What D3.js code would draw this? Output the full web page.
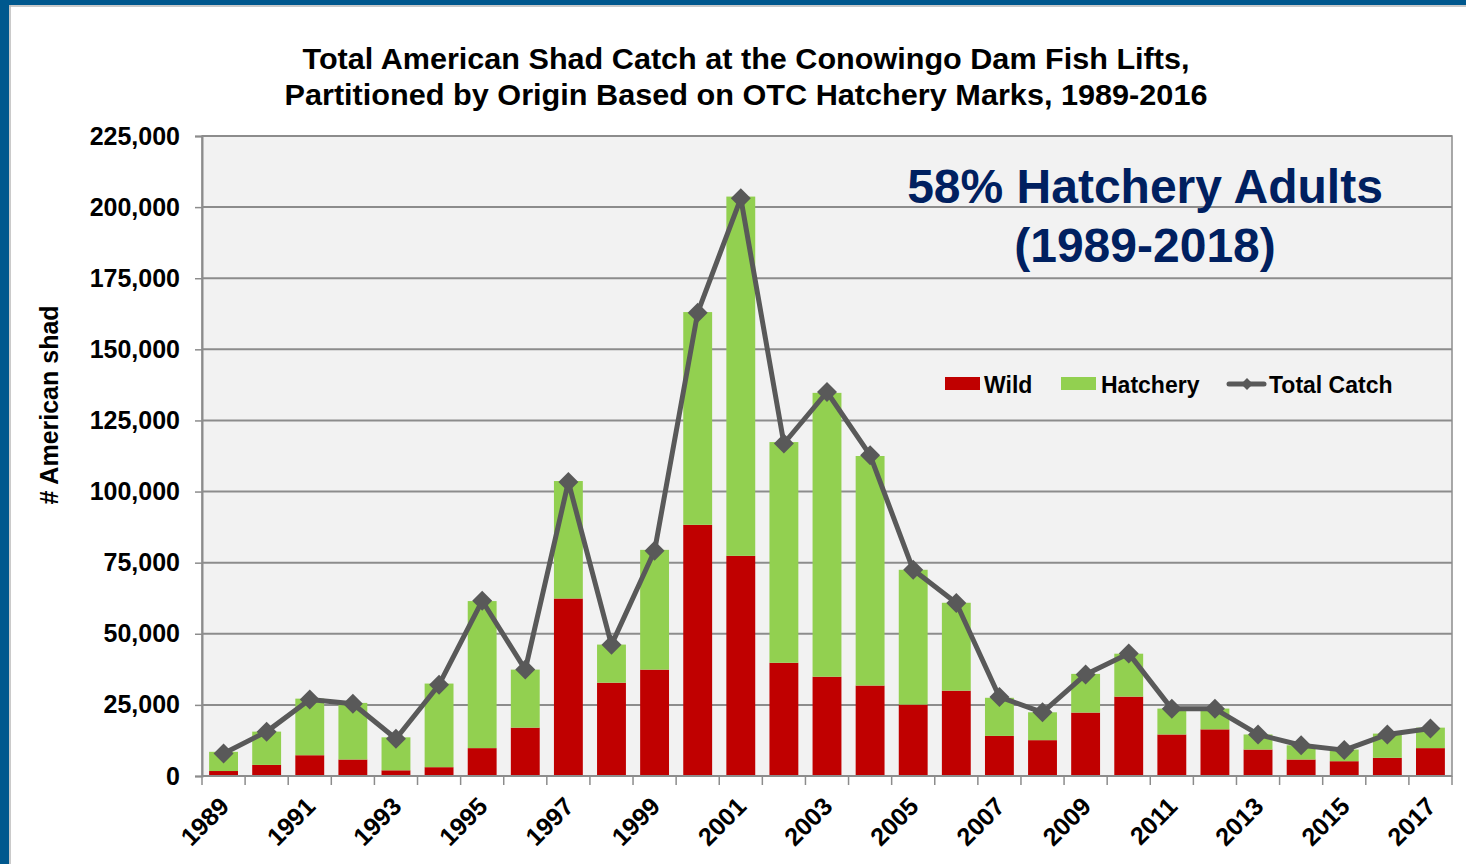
<!DOCTYPE html>
<html>
<head>
<meta charset="utf-8">
<script src="https://cdn.jsdelivr.net/npm/d3@7"></script>
<style>
  body { margin: 0; background: #fff; }
  svg { display: block; font-family: "Liberation Sans", Arial, sans-serif; }
</style>
</head>
<body>
<div id="chart"></div>
<script>
// values
var years = d3.range(1989, 2018);
var wild = [1750, 3900, 7300, 5800, 2000, 3100, 9800, 17000, 62400, 32800,
            37400, 88300, 77400, 39800, 34900, 31800, 25100, 30000, 14100, 12600,
            22300, 27900, 14600, 16400, 9300, 5800, 5200, 6400, 9800];
var hatchery = [6750, 11700, 19900, 19900, 11600, 29400, 51700, 20400, 41300, 13400,
                42100, 74800, 126300, 77600, 99800, 80700, 47400, 30900, 13400, 9800,
                13600, 15100, 9100, 7300, 5300, 5000, 4100, 8500, 7200];
var totalCatch = [7900, 15600, 26900, 25400, 13100, 32100, 61600, 37400, 103400, 46100,
                  79200, 162900, 203100, 116900, 135000, 112800, 72500, 60800, 27800, 22400,
                  35700, 43100, 23600, 23600, 14600, 10800, 9100, 14600, 16700];
var yTicks = [0, 25000, 50000, 75000, 100000, 125000, 150000, 175000, 200000, 225000];

var width = 1466, height = 864;
var plotL = 202, plotR = 1452, plotT = 136, plotB = 776;
var font = '"Liberation Sans", Arial, sans-serif';

var svg = d3.select('#chart').append('svg')
    .attr('width', width)
    .attr('height', height);

// slide frame
svg.append('rect').attr('x', 0).attr('y', 0).attr('width', width).attr('height', height).attr('fill', '#00588e');
svg.append('rect').attr('x', 9).attr('y', 5).attr('width', width - 9).attr('height', height - 5).attr('fill', '#fff');
svg.append('line').attr('x1', 10).attr('x2', 10).attr('y1', 5).attr('y2', height).attr('stroke', '#b8b8b8').attr('stroke-width', 1.5);
svg.append('line').attr('x1', 9).attr('x2', width).attr('y1', 6).attr('y2', 6).attr('stroke', '#b8b8b8').attr('stroke-width', 1.5);

var x = d3.scaleBand().domain(years).range([plotL, plotR]).paddingInner(0.33).paddingOuter(0.165);
var xc = d3.scaleBand().domain(years).range([plotL, plotR]);
var y = d3.scaleLinear().domain([0, 225000]).range([plotB, plotT]);

// plot area
svg.append('rect')
    .attr('x', plotL).attr('y', plotT)
    .attr('width', plotR - plotL).attr('height', plotB - plotT)
    .attr('fill', '#f2f2f2')
    .attr('stroke', '#8c8c8c').attr('stroke-width', 1.5);

// gridlines
svg.append('g').selectAll('line')
    .data(yTicks.slice(1))
  .enter().append('line')
    .attr('x1', plotL).attr('x2', plotR)
    .attr('y1', function(d) { return y(d); })
    .attr('y2', function(d) { return y(d); })
    .attr('stroke', '#8c8c8c').attr('stroke-width', 2);

// y axis
var yAxis = svg.append('g')
    .attr('transform', 'translate(' + plotL + ',0)')
    .call(d3.axisLeft(y).tickValues(yTicks).tickSize(7).tickPadding(15).tickFormat(d3.format(',')));
yAxis.select('.domain').attr('stroke', '#8c8c8c').attr('stroke-width', 2);
yAxis.selectAll('.tick line').attr('stroke', '#8c8c8c').attr('stroke-width', 1.5);
yAxis.selectAll('text')
    .attr('font-size', 25).attr('font-weight', 'bold').attr('fill', '#000')
    .attr('font-family', font);

svg.append('text')
    .attr('transform', 'translate(58,405) rotate(-90)')
    .attr('text-anchor', 'middle')
    .attr('font-size', 25).attr('font-weight', 'bold')
    .text('# American shad');

// stacked bars
var stacked = years.map(function(yr, i) { return { year: yr, wild: wild[i], hatchery: hatchery[i] }; });

svg.append('g').selectAll('.wild')
    .data(stacked)
  .enter().append('rect')
    .attr('class', 'wild')
    .attr('x', function(d) { return x(d.year); })
    .attr('width', x.bandwidth())
    .attr('y', function(d) { return y(d.wild); })
    .attr('height', function(d) { return y(0) - y(d.wild); })
    .attr('fill', '#c00000');

svg.append('g').selectAll('.hatchery')
    .data(stacked)
  .enter().append('rect')
    .attr('class', 'hatchery')
    .attr('x', function(d) { return x(d.year); })
    .attr('width', x.bandwidth())
    .attr('y', function(d) { return y(d.wild + d.hatchery); })
    .attr('height', function(d) { return y(d.wild) - y(d.wild + d.hatchery); })
    .attr('fill', '#92d050');

// x axis
svg.append('line')
    .attr('x1', plotL).attr('x2', plotR)
    .attr('y1', plotB).attr('y2', plotB)
    .attr('stroke', '#8c8c8c').attr('stroke-width', 2);
svg.append('g').selectAll('line')
    .data(years.concat([2018]))
  .enter().append('line')
    .attr('x1', function(d, i) { return plotL + i * xc.step(); })
    .attr('x2', function(d, i) { return plotL + i * xc.step(); })
    .attr('y1', plotB).attr('y2', plotB + 9)
    .attr('stroke', '#8c8c8c').attr('stroke-width', 1.5);

svg.append('g').selectAll('text')
    .data(years.filter(function(d) { return d % 2 === 1; }))
  .enter().append('text')
    .attr('transform', function(d) {
        return 'translate(' + (xc(d) + xc.bandwidth() / 2 + 7) + ',' + 808 + ') rotate(-45)';
    })
    .attr('text-anchor', 'end')
    .attr('font-size', 25).attr('font-weight', 'bold')
    .text(function(d) { return d; });

// total catch line
var line = d3.line()
    .x(function(d, i) { return xc(years[i]) + xc.bandwidth() / 2; })
    .y(function(d) { return y(d); });

svg.append('path')
    .datum(totalCatch)
    .attr('d', line)
    .attr('fill', 'none')
    .attr('stroke', '#595959').attr('stroke-width', 5)
    .attr('stroke-linejoin', 'round');

var diamond = d3.symbol().type(d3.symbolSquare).size(200);
svg.append('g').selectAll('path')
    .data(totalCatch)
  .enter().append('path')
    .attr('d', diamond)
    .attr('transform', function(d, i) {
        return 'translate(' + (xc(years[i]) + xc.bandwidth() / 2) + ',' + y(d) + ') rotate(45)';
    })
    .attr('fill', '#595959');

// legend
var legend = svg.append('g').attr('font-size', 23).attr('font-weight', 'bold');
legend.append('rect').attr('x', 945).attr('y', 377).attr('width', 35).attr('height', 13).attr('fill', '#c00000');
legend.append('text').attr('x', 984).attr('y', 393).text('Wild');
legend.append('rect').attr('x', 1061).attr('y', 377).attr('width', 35).attr('height', 13).attr('fill', '#92d050');
legend.append('text').attr('x', 1101).attr('y', 393).text('Hatchery');
legend.append('line').attr('x1', 1229).attr('x2', 1264).attr('y1', 384).attr('y2', 384)
    .attr('stroke', '#595959').attr('stroke-width', 5).attr('stroke-linecap', 'round');
legend.append('path').attr('d', d3.symbol().type(d3.symbolSquare).size(70))
    .attr('transform', 'translate(1247,384) rotate(45)').attr('fill', '#595959');
legend.append('text').attr('x', 1269).attr('y', 393).text('Total Catch');

// annotation
svg.append('text')
    .attr('x', 1145).attr('y', 203)
    .attr('text-anchor', 'middle')
    .attr('font-size', 48).attr('font-weight', 'bold').attr('fill', '#002060')
    .text('58% Hatchery Adults');
svg.append('text')
    .attr('x', 1145).attr('y', 262)
    .attr('text-anchor', 'middle')
    .attr('font-size', 48).attr('font-weight', 'bold').attr('fill', '#002060')
    .text('(1989-2018)');

// title
svg.append('text')
    .attr('x', 746).attr('y', 69)
    .attr('text-anchor', 'middle')
    .attr('font-size', 29).attr('font-weight', 'bold')
    .attr('textLength', 887).attr('lengthAdjust', 'spacingAndGlyphs')
    .text('Total American  Shad Catch at the Conowingo Dam Fish Lifts,');
svg.append('text')
    .attr('x', 746).attr('y', 105)
    .attr('text-anchor', 'middle')
    .attr('font-size', 29).attr('font-weight', 'bold')
    .attr('textLength', 923).attr('lengthAdjust', 'spacingAndGlyphs')
    .text('Partitioned  by Origin  Based on OTC Hatchery  Marks,  1989-2016');
</script>
</body>
</html>
